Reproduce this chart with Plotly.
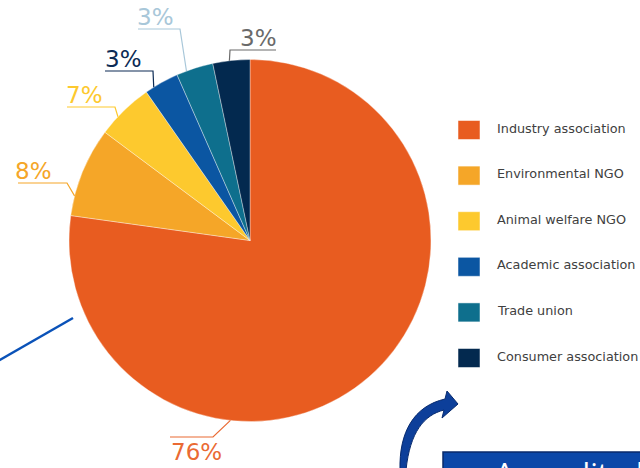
import math
import plotly.graph_objects as go

# ---- data ----
categories = ["Industry association", "Environmental NGO", "Animal welfare NGO",
              "Academic association", "Trade union", "Consumer association"]
values = [77.2, 8.0, 5.1, 3.1, 3.3, 3.3]
pct_labels = ["76%", "8%", "7%", "3%", "3%", "3%"]

# ---- styles ----
slice_colors = ["#E85C20", "#F5A628", "#FDC92E", "#0B56A2", "#0E6F8D", "#03294F"]
label_colors = ["#EA6A33", "#F5A628", "#FDC92E", "#0C2B55", "#A8C7D9", "#6A6A6A"]

W, H = 640, 468
CX, CY, R = 250, 240.5, 181


def px(x):
    return x / W


def py(y):
    return 1 - y / H


fig = go.Figure()
fig.add_trace(go.Pie(
    values=values, labels=categories, sort=False, direction="clockwise", rotation=0,
    textinfo="none", hoverinfo="label+percent", showlegend=False,
    marker=dict(colors=slice_colors, line=dict(color="rgba(255,255,255,0.6)", width=0.6)),
    domain=dict(x=[px(CX - R), px(CX + R)], y=[py(CY + R), py(CY - R)]),
))

shapes = []
annotations = []

# leader-line geometry (pixel layout): anchor fraction inside slice, elbow, end, text pos
anchor_frac = [0.67, 0.22, 0.35, 0.25, 0.27, 0.45]
elbows = [(213, 437), (67, 183), (115, 107), (153, 71), (180, 29), (230, 50)]
ends = [(170, 437), (18, 183), (67, 107), (105, 71), (138, 29), (276, 50)]
text_pos = [(170, 438, "top"), (14, 185, "bottom"), (65, 109, "bottom"),
            (104, 73, "bottom"), (136, 31, "bottom"), (239, 52, "bottom")]

total = sum(values)
start = 0.0
for i, v in enumerate(values):
    span = v / total * 360
    a = math.radians(start + anchor_frac[i] * span)
    ax_, ay_ = CX + R * math.sin(a), CY - R * math.cos(a)
    start += span
    col = label_colors[i]
    ex, ey = elbows[i]
    fx, fy = ends[i]
    shapes.append(dict(type="path", xref="paper", yref="paper",
                       path=f"M {px(ax_)},{py(ay_)} L {px(ex)},{py(ey)} L {px(fx)},{py(fy)}",
                       line=dict(color=col, width=1.2)))
    tx, ty, ya = text_pos[i]
    annotations.append(dict(x=px(tx), y=py(ty), xref="paper", yref="paper",
                            xanchor="left", yanchor=ya, showarrow=False, text=pct_labels[i],
                            font=dict(family="DejaVu Sans", size=23, color=col),
                            borderpad=0))

# legend
for i, name in enumerate(categories):
    cy = 130 + i * 45.6
    shapes.append(dict(type="rect", xref="paper", yref="paper",
                       x0=px(458), x1=px(480), y0=py(cy - 9.5), y1=py(cy + 9.5),
                       fillcolor=slice_colors[i], line=dict(color="rgba(255,255,255,0.5)", width=1)))
    annotations.append(dict(x=px(495), y=py(cy - 2), xref="paper", yref="paper",
                            xanchor="left", yanchor="middle", showarrow=False, text=name,
                            font=dict(family="DejaVu Sans", size=12.8, color="#404040")))

# decorations from slide
shapes.append(dict(type="line", xref="paper", yref="paper",
                   x0=px(-2), y0=py(361), x1=px(73), y1=py(318),
                   line=dict(color="#0A52B8", width=2.5)))
shapes.append(dict(type="path", xref="paper", yref="paper",
                   path=("M {},{} C {},{} {},{} {},{} L {},{} L {},{} L {},{} L {},{} C {},{} {},{} {},{} Z").format(
                       px(400), py(470), px(399), py(432), px(414), py(406), px(445), py(399),
                       px(447), py(391), px(458), py(404), px(442), py(418), px(444), py(410),
                       px(424), py(415), px(410), py(432), px(406), py(470)),
                   fillcolor="#0D3F9A", line=dict(color="#072A6E", width=1)))
shapes.append(dict(type="rect", xref="paper", yref="paper",
                   x0=px(443), x1=px(660), y0=py(452), y1=py(490),
                   fillcolor="#0B47A8", line=dict(color="#0A2A6A", width=1.5)))
annotations.append(dict(x=px(493), y=py(450), xref="paper", yref="paper",
                        xanchor="left", yanchor="top", showarrow=False, text="Accredited",
                        font=dict(family="Open Sans", size=30, color="white")))

fig.update_layout(width=W, height=H, margin=dict(l=0, r=0, t=0, b=0),
                  paper_bgcolor="white", plot_bgcolor="white",
                  shapes=shapes, annotations=annotations)

fig.write_html("out.html")
